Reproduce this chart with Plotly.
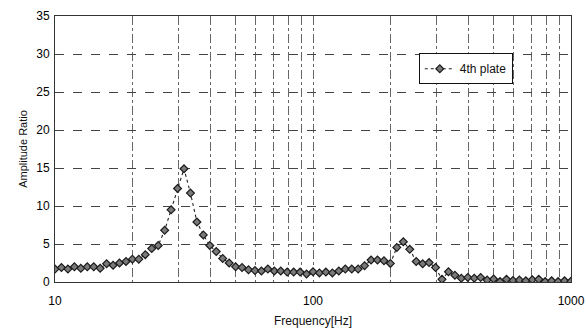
import plotly.graph_objects as go

freq = [10.00, 10.59, 11.22, 11.89, 12.59, 13.34, 14.13, 14.96, 15.85, 16.79,
        17.78, 18.84, 19.95, 21.13, 22.39, 23.71, 25.12, 26.61, 28.18, 29.85,
        31.62, 33.50, 35.48, 37.58, 39.81, 42.17, 44.67, 47.32, 50.12, 53.09,
        56.23, 59.57, 63.10, 66.83, 70.79, 74.99, 79.43, 84.14, 89.13, 94.41,
        100.0, 105.9, 112.2, 118.9, 125.9, 133.4, 141.3, 149.6, 158.5, 167.9,
        177.8, 188.4, 199.5, 211.3, 223.9, 237.1, 251.2, 266.1, 281.8, 298.5,
        316.2, 335.0, 354.8, 375.8, 398.1, 421.7, 446.7, 473.2, 501.2, 530.9,
        562.3, 595.7, 631.0, 668.3, 707.9, 749.9, 794.3, 841.4, 891.3, 944.1,
        1000.0]

amplitude = [1.7, 1.9, 1.7, 2.0, 1.8, 2.0, 2.0, 1.8, 2.4, 2.2,
             2.5, 2.7, 3.0, 3.0, 3.6, 4.4, 4.8, 6.8, 9.5, 12.3,
             14.9, 11.7, 7.9, 6.2, 4.8, 4.0, 3.1, 2.5, 2.0, 1.9,
             1.6, 1.5, 1.45, 1.7, 1.45, 1.45, 1.3, 1.3, 1.3, 1.05,
             1.35, 1.2, 1.3, 1.2, 1.45, 1.7, 1.7, 1.7, 2.15, 2.9,
             2.9, 2.8, 2.45, 4.55, 5.3, 4.3, 2.7, 2.4, 2.55, 1.9,
             0.35, 1.35, 0.9, 0.5, 0.6, 0.5, 0.6, 0.25, 0.4, 0.05,
             0.35, 0.2, 0.25, 0.15, 0.3, 0.35, 0.05, 0.15, 0.05, 0.15,
             0.1]

x_tickvals = [10, 20, 30, 40, 50, 60, 70, 80, 90,
              100, 200, 300, 400, 500, 600, 700, 800, 900, 1000]
x_ticktext = ["10", "", "", "", "", "", "", "", "",
              "100", "", "", "", "", "", "", "", "", "1000"]
y_tickvals = [0, 5, 10, 15, 20, 25, 30, 35]

fig = go.Figure()
fig.add_trace(go.Scatter(
    x=freq, y=amplitude, name="4th plate", mode="lines+markers",
    line=dict(color="#222222", width=1.1, dash="dot"),
    marker=dict(symbol="diamond", size=6, color="#7a7a7a",
                line=dict(color="#1a1a1a", width=1.2)),
))

font_main = "Liberation Sans, Arial, sans-serif"

fig.update_layout(
    width=586, height=329,
    margin=dict(l=55, r=15, t=16, b=47),
    paper_bgcolor="white", plot_bgcolor="white",
    font=dict(family=font_main, size=11, color="#111111"),
    showlegend=True,
    legend=dict(x=0.705, y=0.86, xanchor="left", yanchor="top",
                bgcolor="white", bordercolor="#111111", borderwidth=1,
                font=dict(size=12, color="#111111"),
                itemwidth=30, tracegroupgap=0),
    xaxis=dict(
        type="log", range=[1, 3], automargin=False,
        tickvals=x_tickvals, ticktext=x_ticktext,
        showgrid=True, gridcolor="#666666", gridwidth=1, griddash="dashdot",
        showline=True, linecolor="#333333", linewidth=1, mirror=True,
        ticks="", zeroline=False, ticklabelstandoff=8,
        tickfont=dict(size=12, color="#000000"),
        title=dict(text="Frequency[Hz]", font=dict(size=12), standoff=9),
    ),
    yaxis=dict(
        range=[0, 35], tickvals=y_tickvals, automargin=False,
        showgrid=True, gridcolor="#444444", gridwidth=1, griddash="dash",
        showline=True, linecolor="#333333", linewidth=1, mirror=True,
        ticks="", zeroline=False, ticklabelstandoff=2,
        tickfont=dict(size=12, color="#000000"),
        title=dict(text="Amplitude Ratio", font=dict(size=11), standoff=6),
    ),
)

fig.write_html("out.html",
               config={"displayModeBar": False},
               post_script="document.body.style.margin='0';document.body.style.overflow='hidden';")
